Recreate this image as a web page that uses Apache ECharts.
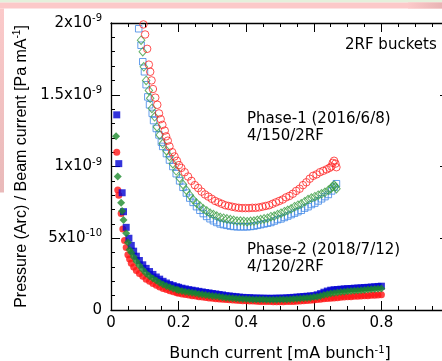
<!DOCTYPE html>
<html>
<head>
<meta charset="utf-8">
<script src="https://cdn.jsdelivr.net/npm/echarts@6/dist/echarts.min.js"></script>
<style>
  html, body { margin: 0; padding: 0; background: #ffffff; }
  #chart { width: 442px; height: 361px; }
</style>
</head>
<body>
<div id="chart"></div>
<script>
// Pressure rise per beam current vs bunch current, 2RF buckets.
// y values are in units of 1e-10 Pa/mA.

const xTickLabels = ['0', '0.2', '0.4', '0.6', '0.8', '1'];
const yTickMantissa = ['0', '5x10', '1x10', '1.5x10', '2x10'];
const yTickExponent = ['', '-10', '-9', '-9', '-9'];

// Phase-1 (2016/6/8), 4/150/2RF  -- open markers
const p1RedX = [0.096, 0.101, 0.107, 0.112, 0.116, 0.120, 0.124, 0.131, 0.137, 0.142, 0.147, 0.152, 0.159, 0.163, 0.168, 0.173, 0.181, 0.188, 0.195, 0.201, 0.208, 0.218, 0.228, 0.238, 0.248, 0.258, 0.268, 0.278, 0.288, 0.298, 0.308, 0.318, 0.328, 0.338, 0.348, 0.358, 0.368, 0.378, 0.388, 0.398, 0.408, 0.418, 0.428, 0.438, 0.448, 0.458, 0.468, 0.478, 0.488, 0.498, 0.508, 0.518, 0.528, 0.538, 0.548, 0.558, 0.568, 0.578, 0.588, 0.598, 0.608, 0.618, 0.628, 0.638, 0.646, 0.652, 0.656, 0.660, 0.664, 0.667];
const p1RedY = [19.9, 19.2, 18.2, 17.1, 16.6, 16.0, 15.4, 14.8, 14.3, 13.7, 13.3, 12.9, 12.5, 12.1, 11.8, 11.4, 11.0, 10.7, 10.4, 10.1, 9.9, 9.6, 9.3, 9.0, 8.7, 8.5, 8.25, 8.05, 7.9, 7.75, 7.6, 7.5, 7.4, 7.3, 7.25, 7.2, 7.15, 7.12, 7.1, 7.1, 7.1, 7.12, 7.12, 7.15, 7.2, 7.25, 7.3, 7.4, 7.5, 7.6, 7.7, 7.85, 7.95, 8.1, 8.3, 8.45, 8.7, 8.9, 9.15, 9.35, 9.45, 9.6, 9.7, 9.8, 9.9, 10.0, 10.25, 10.4, 10.2, 9.95];

const p1BlueX = [0.082, 0.089, 0.094, 0.099, 0.104, 0.109, 0.114, 0.122, 0.126, 0.134, 0.142, 0.149, 0.153, 0.164, 0.173, 0.183, 0.193, 0.203, 0.213, 0.223, 0.233, 0.243, 0.253, 0.263, 0.273, 0.283, 0.293, 0.303, 0.313, 0.323, 0.333, 0.343, 0.353, 0.363, 0.373, 0.383, 0.393, 0.403, 0.413, 0.423, 0.433, 0.443, 0.453, 0.463, 0.473, 0.483, 0.493, 0.503, 0.513, 0.523, 0.533, 0.543, 0.553, 0.563, 0.573, 0.583, 0.593, 0.603, 0.613, 0.623, 0.633, 0.643, 0.653, 0.660, 0.667];
const p1BlueY = [19.6, 18.45, 17.3, 16.6, 15.7, 14.85, 14.3, 13.7, 13.2, 12.65, 12.2, 11.7, 11.4, 10.9, 10.45, 10.0, 9.5, 9.0, 8.55, 8.15, 7.8, 7.5, 7.2, 6.95, 6.72, 6.52, 6.36, 6.22, 6.1, 6.0, 5.95, 5.9, 5.85, 5.82, 5.8, 5.8, 5.8, 5.8, 5.82, 5.85, 5.9, 5.95, 6.0, 6.05, 6.1, 6.2, 6.3, 6.35, 6.45, 6.55, 6.65, 6.75, 6.85, 6.95, 7.1, 7.2, 7.35, 7.45, 7.6, 7.75, 7.9, 8.05, 8.3, 8.55, 8.8];

const p1GreenX = [0.089, 0.094, 0.097, 0.104, 0.112, 0.116, 0.121, 0.129, 0.136, 0.144, 0.153, 0.164, 0.173, 0.183, 0.193, 0.203, 0.213, 0.223, 0.233, 0.243, 0.253, 0.263, 0.273, 0.283, 0.293, 0.303, 0.313, 0.323, 0.333, 0.343, 0.353, 0.363, 0.373, 0.383, 0.393, 0.403, 0.413, 0.423, 0.433, 0.443, 0.453, 0.463, 0.473, 0.483, 0.493, 0.503, 0.513, 0.523, 0.533, 0.543, 0.553, 0.563, 0.573, 0.583, 0.593, 0.603, 0.613, 0.623, 0.633, 0.643, 0.650, 0.655, 0.660, 0.664, 0.667];
const p1GreenY = [18.8, 18.0, 16.95, 16.0, 15.3, 14.75, 14.05, 13.46, 12.76, 12.2, 11.6, 11.1, 10.7, 10.2, 9.7, 9.2, 8.75, 8.35, 8.0, 7.7, 7.45, 7.25, 7.05, 6.9, 6.75, 6.65, 6.55, 6.45, 6.4, 6.35, 6.3, 6.25, 6.2, 6.2, 6.18, 6.15, 6.18, 6.2, 6.25, 6.3, 6.35, 6.4, 6.5, 6.55, 6.65, 6.75, 6.85, 6.95, 7.05, 7.2, 7.3, 7.4, 7.55, 7.7, 7.8, 7.9, 8.0, 8.1, 8.2, 8.35, 8.45, 8.6, 8.7, 8.6, 8.45];

// Phase-2 (2018/7/12), 4/120/2RF  -- filled markers
const p2RedX = [0.017, 0.020, 0.023, 0.030, 0.035, 0.040, 0.045, 0.050, 0.055, 0.060, 0.067, 0.075, 0.084, 0.094, 0.104, 0.114, 0.124, 0.134, 0.144, 0.154, 0.164, 0.174, 0.184, 0.194, 0.20, 0.21, 0.22, 0.23, 0.24, 0.25, 0.26, 0.27, 0.28, 0.29, 0.30, 0.31, 0.32, 0.33, 0.34, 0.35, 0.36, 0.37, 0.38, 0.39, 0.40, 0.41, 0.42, 0.43, 0.44, 0.45, 0.46, 0.47, 0.48, 0.49, 0.50, 0.51, 0.52, 0.53, 0.54, 0.55, 0.56, 0.57, 0.58, 0.59, 0.60, 0.61, 0.62, 0.63, 0.64, 0.65, 0.66, 0.67, 0.68, 0.69, 0.70, 0.71, 0.72, 0.73, 0.74, 0.75, 0.76, 0.77, 0.78, 0.79, 0.80];
const p2RedY = [11.0, 8.36, 8.0, 6.73, 5.65, 4.85, 4.35, 3.85, 3.55, 3.25, 3.0, 2.75, 2.55, 2.35, 2.15, 2.0, 1.85, 1.72, 1.6, 1.5, 1.42, 1.35, 1.28, 1.21, 1.16, 1.12, 1.08, 1.04, 1.0, 0.97, 0.93, 0.9, 0.87, 0.84, 0.82, 0.79, 0.77, 0.75, 0.73, 0.71, 0.7, 0.68, 0.66, 0.65, 0.64, 0.63, 0.62, 0.61, 0.6, 0.6, 0.59, 0.59, 0.58, 0.58, 0.58, 0.58, 0.59, 0.59, 0.6, 0.61, 0.63, 0.64, 0.66, 0.68, 0.7, 0.73, 0.75, 0.78, 0.8, 0.82, 0.84, 0.86, 0.88, 0.9, 0.92, 0.93, 0.95, 0.96, 0.98, 0.99, 1.0, 1.02, 1.03, 1.05, 1.06];

const p2BlueX = [0.017, 0.023, 0.033, 0.037, 0.045, 0.053, 0.060, 0.067, 0.075, 0.084, 0.094, 0.104, 0.114, 0.124, 0.134, 0.144, 0.154, 0.164, 0.174, 0.184, 0.194, 0.20, 0.21, 0.22, 0.23, 0.24, 0.25, 0.26, 0.27, 0.28, 0.29, 0.30, 0.31, 0.32, 0.33, 0.34, 0.35, 0.36, 0.37, 0.38, 0.39, 0.40, 0.41, 0.42, 0.43, 0.44, 0.45, 0.46, 0.47, 0.48, 0.49, 0.50, 0.51, 0.52, 0.53, 0.54, 0.55, 0.56, 0.57, 0.58, 0.59, 0.60, 0.61, 0.62, 0.63, 0.64, 0.65, 0.66, 0.67, 0.68, 0.69, 0.70, 0.71, 0.72, 0.73, 0.74, 0.75, 0.76, 0.77, 0.78, 0.79, 0.80];
const p2BlueY = [13.6, 10.2, 8.17, 6.85, 5.76, 5.0, 4.5, 4.1, 3.75, 3.45, 3.15, 2.9, 2.68, 2.48, 2.3, 2.15, 2.0, 1.88, 1.78, 1.7, 1.62, 1.58, 1.52, 1.47, 1.42, 1.38, 1.34, 1.3, 1.26, 1.22, 1.19, 1.15, 1.12, 1.08, 1.05, 1.0, 0.98, 0.95, 0.93, 0.9, 0.88, 0.86, 0.86, 0.84, 0.83, 0.83, 0.82, 0.82, 0.81, 0.82, 0.82, 0.83, 0.83, 0.85, 0.86, 0.88, 0.9, 0.92, 0.94, 0.96, 0.98, 1.0, 1.06, 1.14, 1.24, 1.32, 1.38, 1.41, 1.43, 1.45, 1.47, 1.49, 1.5, 1.52, 1.53, 1.55, 1.57, 1.58, 1.6, 1.62, 1.64, 1.66];

const p2GreenX = [0.015, 0.020, 0.030, 0.033, 0.037, 0.045, 0.050, 0.055, 0.060, 0.067, 0.075, 0.084, 0.094, 0.104, 0.114, 0.124, 0.134, 0.144, 0.154, 0.164, 0.174, 0.184, 0.194, 0.20, 0.21, 0.22, 0.23, 0.24, 0.25, 0.26, 0.27, 0.28, 0.29, 0.30, 0.31, 0.32, 0.33, 0.34, 0.35, 0.36, 0.37, 0.38, 0.39, 0.40, 0.41, 0.42, 0.43, 0.44, 0.45, 0.46, 0.47, 0.48, 0.49, 0.50, 0.51, 0.52, 0.53, 0.54, 0.55, 0.56, 0.57, 0.58, 0.59, 0.60, 0.61, 0.62, 0.63, 0.64, 0.65, 0.66, 0.67, 0.68, 0.69, 0.70, 0.71, 0.72, 0.73, 0.74, 0.75, 0.76, 0.77, 0.78, 0.79, 0.80];
const p2GreenY = [12.1, 9.3, 7.47, 6.9, 6.27, 5.34, 4.7, 4.2, 4.0, 3.7, 3.4, 3.1, 2.8, 2.55, 2.35, 2.2, 2.05, 1.9, 1.78, 1.67, 1.58, 1.5, 1.42, 1.38, 1.33, 1.28, 1.24, 1.2, 1.16, 1.12, 1.08, 1.04, 1.01, 0.98, 0.95, 0.92, 0.89, 0.86, 0.84, 0.82, 0.8, 0.79, 0.77, 0.76, 0.75, 0.74, 0.74, 0.73, 0.73, 0.72, 0.72, 0.72, 0.72, 0.73, 0.73, 0.74, 0.75, 0.77, 0.78, 0.8, 0.82, 0.84, 0.86, 0.9, 0.93, 0.98, 1.04, 1.1, 1.15, 1.19, 1.22, 1.25, 1.27, 1.3, 1.32, 1.34, 1.36, 1.38, 1.4, 1.42, 1.44, 1.46, 1.48, 1.5];

const pair = (xs, ys) => xs.map((x, i) => [x, ys[i]]);

const hollow = (name, xs, ys, symbol, size, color) => ({
  name, type: 'scatter', symbol, symbolSize: size,
  data: pair(xs, ys),
  itemStyle: { color: 'rgba(0,0,0,0)', borderColor: color, borderWidth: 1 },
  emphasis: { disabled: true }
});
const filled = (name, xs, ys, symbol, size, color) => ({
  name, type: 'scatter', symbol, symbolSize: size,
  data: pair(xs, ys),
  itemStyle: { color, borderWidth: 0 },
  emphasis: { disabled: true }
});

const hFont = '"DejaVu Sans", sans-serif';
const axisCommon = {
  type: 'value',
  axisLine: { show: true, onZero: false, lineStyle: { color: '#000', width: 1.3 } },
  axisTick: { show: true, inside: true, length: 9, lineStyle: { color: '#000', width: 1 } },
  minorTick: { show: true, length: 4, lineStyle: { color: '#000', width: 1 } },
  splitLine: { show: false },
  minorSplitLine: { show: false }
};

const chart = echarts.init(document.getElementById('chart'), null, { renderer: 'canvas' });
chart.setOption({
  animation: false,
  backgroundColor: '#ffffff',
  grid: { left: 111, right: -7, top: 23, bottom: 51, containLabel: false, outerBoundsMode: 'none' },
  xAxis: [
    Object.assign({}, axisCommon, {
      position: 'bottom', min: 0, max: 1, interval: 0.2,
      minorTick: Object.assign({}, axisCommon.minorTick, { splitNumber: 4 }),
      axisLabel: {
        margin: 6, color: '#000', fontSize: 15, fontFamily: hFont, hideOverlap: false,
        formatter: v => xTickLabels[Math.round(v / 0.2)]
      },
      name: 'Bunch current [mA bunch{s|-1}]',
      nameLocation: 'middle', nameGap: 35,
      nameTextStyle: {
        color: '#000', fontSize: 16, fontFamily: hFont,
        rich: { s: { fontSize: 10, fontFamily: hFont, color: '#000', padding: [0, 0, 8, 0] } }
      }
    }),
    Object.assign({}, axisCommon, {
      position: 'top', min: 0, max: 1, interval: 0.2,
      minorTick: Object.assign({}, axisCommon.minorTick, { splitNumber: 4 }),
      axisLabel: { show: false }
    })
  ],
  yAxis: [
    Object.assign({}, axisCommon, {
      position: 'left', min: 0, max: 20, interval: 5,
      minorTick: Object.assign({}, axisCommon.minorTick, { splitNumber: 5 }),
      axisLabel: {
        margin: 9, color: '#000', fontSize: 15, fontFamily: hFont,
        formatter: v => {
          const i = Math.round(v / 5);
          return yTickExponent[i] ? '{m|' + yTickMantissa[i] + '}{e|' + yTickExponent[i] + '}' : '{m|' + yTickMantissa[i] + '}';
        },
        rich: {
          m: { fontSize: 15, fontFamily: hFont, color: '#000' },
          e: { fontSize: 10, fontFamily: hFont, color: '#000', padding: [0, 0, 9, 0] }
        }
      },
      name: 'Pressure (Arc) / Beam current [Pa mA{s|-1}]',
      nameLocation: 'middle', nameRotate: 90, nameGap: 80,
      nameTextStyle: {
        color: '#000', fontSize: 16, fontFamily: '"Liberation Sans", Arial, sans-serif',
        rich: { s: { fontSize: 10, fontFamily: '"Liberation Sans", Arial, sans-serif', color: '#000', padding: [0, 0, 8, 0] } }
      }
    }),
    Object.assign({}, axisCommon, {
      position: 'right', min: 0, max: 20, interval: 5,
      minorTick: Object.assign({}, axisCommon.minorTick, { splitNumber: 5 }),
      axisLabel: { show: false }
    })
  ],
  series: [
    hollow('Phase-1 Blue', p1BlueX, p1BlueY, 'rect', 6.5, '#3d86e6'),
    hollow('Phase-1 Green', p1GreenX, p1GreenY, 'diamond', [7.5, 8.5], '#3f9f45'),
    hollow('Phase-1 Red', p1RedX, p1RedY, 'circle', 7.5, '#ff2424'),
    filled('Phase-2 Red', p2RedX, p2RedY, 'circle', 7, '#ff1414'),
    filled('Phase-2 Blue', p2BlueX, p2BlueY, 'rect', 7, '#0000d2'),
    filled('Phase-2 Green', p2GreenX, p2GreenY, 'diamond', [8, 8], '#1c8a2c')
  ],
  graphic: [
    { type: 'rect', z: -10, shape: { x: 0, y: 0, width: 442, height: 2.5 }, style: { fill: '#e4f1dc' } },
    { type: 'rect', z: -10, shape: { x: 0, y: 2.5, width: 442, height: 6 }, style: { fill: '#fcc9c9' } },
    { type: 'rect', z: -9, shape: { x: 408, y: 2.5, width: 34, height: 6 },
      style: { fill: new echarts.graphic.LinearGradient(0, 0, 1, 0, [{ offset: 0, color: '#fcc9c9' }, { offset: 1, color: '#e8b4b4' }]) } },
    { type: 'rect', z: -10, shape: { x: 0, y: 8.5, width: 4, height: 184 },
      style: { fill: new echarts.graphic.LinearGradient(0, 0, 0, 1, [{ offset: 0, color: '#fbcaca' }, { offset: 1, color: '#e9b9b9' }]) } },
    { type: 'text', z: 100, style: { text: '2RF buckets', x: 345, y: 45, fill: '#000', font: '15px ' + hFont, verticalAlign: 'middle' } },
    { type: 'text', z: 100, style: { text: 'Phase-1 (2016/6/8)\n4/150/2RF', x: 247, y: 111, fill: '#000', font: '15px ' + hFont, lineHeight: 17, verticalAlign: 'top' } },
    { type: 'text', z: 100, style: { text: 'Phase-2 (2018/7/12)\n4/120/2RF', x: 247, y: 242, fill: '#000', font: '15px ' + hFont, lineHeight: 17, verticalAlign: 'top' } }
  ]
});
</script>
</body>
</html>
